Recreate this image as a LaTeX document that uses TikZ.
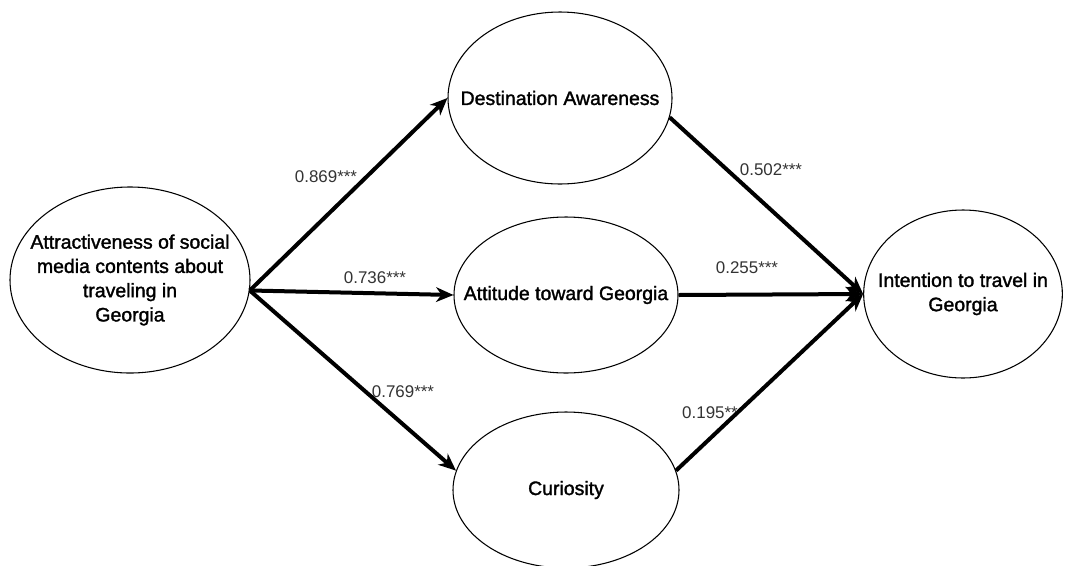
\documentclass[tikz,border=0pt]{standalone}
\usepackage{fontspec}
\setmainfont{Liberation Sans}
\newfontfamily\ovalfont{Liberation Sans}[FakeBold=1.6]
\usetikzlibrary{arrows.meta,shapes.geometric}

\begin{document}
\begin{tikzpicture}[x=0.75pt,y=-0.75pt,>={Stealth[length=13pt,width=11pt,inset=4pt]},
    oval/.style={draw, ellipse, line width=0.8pt, inner sep=0pt},
    ovaltext/.style={align=center, inner sep=0pt,
        font=\ovalfont\fontsize{14.6pt}{18.2pt}\selectfont},
    link/.style={->, line width=3pt},
    coef/.style={text=black!80, inner sep=0pt, font=\fontsize{12.7pt}{15pt}\selectfont}]
    \useasboundingbox (0,0) rectangle (1067,565);

    % Constructs
    \node[oval, minimum width=180pt, minimum height=139.5pt] (attr) at (130,280)
        [label={[ovaltext]center:Attractiveness of social\\media contents about\\traveling in\\Georgia}] {};
    \node[oval, minimum width=168pt, minimum height=129pt] (da) at (560,98)
        [label={[ovaltext]center:Destination Awareness}] {};
    \node[oval, minimum width=168pt, minimum height=117pt] (att) at (566,295)
        [label={[ovaltext]center:Attitude toward Georgia}] {};
    \node[oval, minimum width=169.5pt, minimum height=117pt] (cur) at (566,490)
        [label={[ovaltext]center:Curiosity}] {};
    \node[oval, minimum width=149pt, minimum height=126pt] (int) at (963,294)
        [label={[ovaltext]center:Intention to travel in\\Georgia}] {};

    % Paths from attractiveness
    \draw[link] (attr.-5) -- (da.west);
    \draw[link] (attr.-5) -- (att.west);
    \draw[link] (attr.-5) -- (cur.170);

    % Paths to intention
    \draw[link] (da.-10) -- (int.west);
    \draw[link] (att.east) -- (int.west);
    \draw[link] (cur.10) -- (int.west);

    % Coefficients
    \node[coef] (c869) at (326,177) {0.869***};
    \node[coef] (c736) at (375,278) {0.736***};
    \node[coef] (c769) at (403,392) {0.769***};
    \node[coef] (c502) at (771,170) {0.502***};
    \node[coef] (c255) at (747,268) {0.255***};
    \node[coef] (c195) at (710,413) {0.195**};
\end{tikzpicture}
\end{document}
